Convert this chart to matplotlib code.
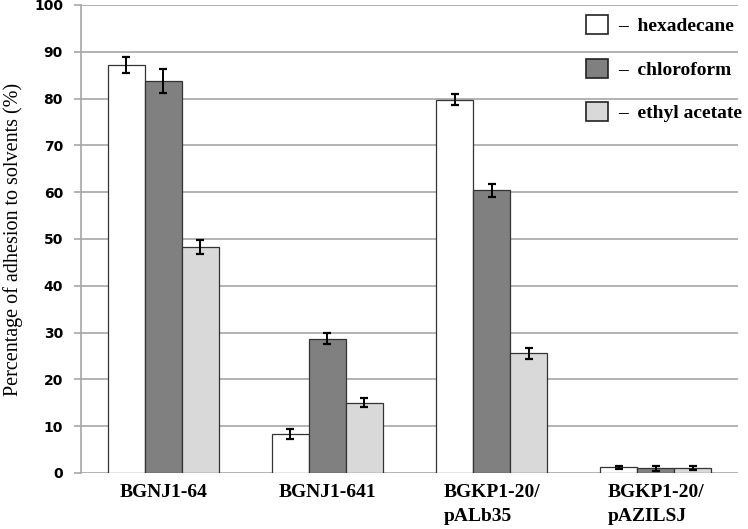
import matplotlib.pyplot as plt
import matplotlib.patches as mpatches
import numpy as np

# strains and solvent data (% adhesion)
strains = ["BGNJ1-64", "BGNJ1-641", "BGKP1-20/\npALb35", "BGKP1-20/\npAZILSJ"]
solvents = ["hexadecane", "chloroform", "ethyl acetate"]
hexadecane = [87.1, 8.3, 79.8, 1.2]
hexadecane_err = [1.7, 1.0, 1.2, 0.4]
chloroform = [83.8, 28.7, 60.4, 1.0]
chloroform_err = [2.6, 1.2, 1.4, 0.6]
ethyl_acetate = [48.3, 15.0, 25.6, 1.0]
ethyl_acetate_err = [1.5, 1.0, 1.2, 0.4]

colors = ["#ffffff", "#808080", "#d9d9d9"]
grid_col = "#a6a6a6"

fig = plt.figure(figsize=(7.48, 5.29), dpi=100)
ax = fig.add_axes([81/748, 1 - 473/529, (738 - 81)/748, (473 - 5)/529])

x = np.arange(len(strains))
w = 0.2256
series = [(hexadecane, hexadecane_err), (chloroform, chloroform_err), (ethyl_acetate, ethyl_acetate_err)]
handles = []
for i, (vals, errs) in enumerate(series):
    ax.bar(x + (i - 1) * w, vals, w, color=colors[i], edgecolor="#333333", linewidth=0.9, zorder=3)
    ax.errorbar(x + (i - 1) * w, vals, yerr=errs, fmt="none", ecolor="black",
                elinewidth=1.4, capsize=3.2, capthick=1.6, zorder=4)
    handles.append(mpatches.Patch(facecolor=colors[i], edgecolor="#222222", linewidth=1.2,
                                  label="\u2013  " + solvents[i]))

ax.set_xlim(-0.5, 3.5)
ax.set_ylim(0, 100)
ax.set_yticks(range(0, 101, 10))
ax.yaxis.grid(True, color=grid_col, linewidth=1.2, zorder=0)
ax.set_axisbelow(True)
for s in ["top", "right", "bottom"]:
    ax.spines[s].set_visible(False)
ax.spines["left"].set_color(grid_col)
ax.spines["left"].set_linewidth(1.2)
ax.tick_params(axis="y", color=grid_col, width=1.2, length=5, pad=8)
ax.tick_params(axis="x", length=0, pad=8)
for lab in ax.get_yticklabels():
    lab.set_fontfamily("DejaVu Sans")
    lab.set_fontweight("bold")
    lab.set_fontsize(10)

ax.set_xticks(x)
ax.set_xticklabels(strains, fontfamily="Liberation Serif", fontweight="bold",
                   fontsize=14, multialignment="left", linespacing=1.5)

ax.set_ylabel("Percentage of adhesion to solvents (%)", fontfamily="Liberation Serif",
              fontsize=14.5)
ax.yaxis.set_label_coords(-0.088, 0.5)

fig.legend(handles=handles, loc="upper left", bbox_to_anchor=(586/748, 1 - 15/529),
           frameon=False, prop={"family": "Liberation Serif", "weight": "bold", "size": 14},
           handlelength=1.15, handleheight=1.15, handletextpad=0.5, labelspacing=1.2,
           borderpad=0, borderaxespad=0)

fig.savefig("out.png", dpi=100)
